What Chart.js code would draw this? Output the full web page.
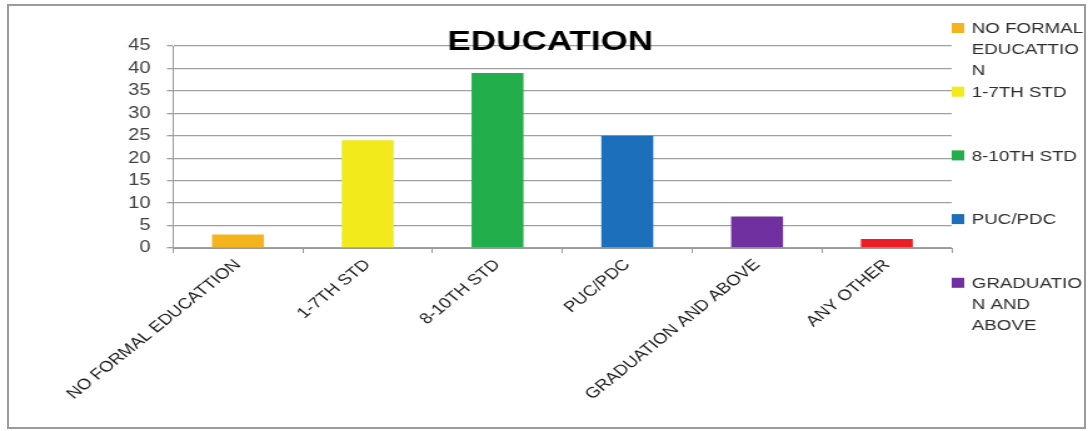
<!DOCTYPE html>
<html>
<head>
<meta charset="utf-8">
<script src="https://cdn.jsdelivr.net/npm/chart.js@4.4.1/dist/chart.umd.min.js"></script>
<style>
  body { margin: 0; background: #fff; }
  #wrap { position: relative; width: 1088px; height: 431px; overflow: hidden; background: #fff; }
  #frame { position: absolute; left: 7px; top: 4px; width: 1079px; height: 425px; border: 2px solid #9a9a9a; box-sizing: border-box; }
  /* the source picture is stretched sideways, so the canvas is too */
  #c { position: absolute; left: 0; top: 0; transform: scaleX(1.2506); transform-origin: 0 0; }
</style>
</head>
<body>
<div id="wrap">
  <div id="frame"></div>
  <canvas id="c" width="870" height="431"></canvas>
</div>
<script>
// Data
const chartTitle = 'EDUCATION';
const categories = ['NO FORMAL EDUCATTION', '1-7TH STD', '8-10TH STD', 'PUC/PDC', 'GRADUATION AND ABOVE', 'ANY OTHER'];
const counts = [3, 24, 39, 25, 7, 2];
const barColors = ['#f4b41b', '#f2ea1b', '#22ae4b', '#1b6fbb', '#7030a0', '#ee1c25'];
// legend as it shows in the picture (wrapped, last item cut off)
const legendLabels = ['NO FORMAL\nEDUCATTIO\nN', '1-7TH STD', '8-10TH STD', 'PUC/PDC', 'GRADUATIO\nN AND\nABOVE'];
const yMax = 45;
const yStep = 5;

// Title + legend drawn by hand
const decor = {
  id: 'decor',
  afterDraw(chart) {
    const ctx = chart.ctx;
    ctx.save();
    ctx.fillStyle = '#000';
    ctx.font = 'bold 28px "Liberation Sans"';
    ctx.textAlign = 'center';
    ctx.textBaseline = 'alphabetic';
    ctx.fillText(chartTitle, 440, 50);

    ctx.font = '15px "Liberation Sans"';
    ctx.textAlign = 'left';
    ctx.textBaseline = 'middle';
    legendLabels.forEach((lbl, i) => {
      const y = 28 + i * 63.7;
      ctx.fillStyle = barColors[i];
      ctx.fillRect(761, y - 5, 10, 10);
      ctx.fillStyle = '#2e2e2e';
      lbl.split('\n').forEach((line, j) => ctx.fillText(line, 777, y + 1 + j * 21));
    });
    ctx.restore();
  }
};

const ctx = document.getElementById('c').getContext('2d');
new Chart(ctx, {
  type: 'bar',
  data: {
    labels: categories,
    datasets: [{
      data: counts,
      backgroundColor: barColors,
      borderWidth: 0,
      barPercentage: 0.4,
      categoryPercentage: 1
    }]
  },
  options: {
    responsive: false,
    animation: false,
    devicePixelRatio: 1,
    layout: { padding: { left: 0, top: 46, right: 109, bottom: 0 } },
    plugins: {
      legend: { display: false },
      title: { display: false },
      tooltip: { enabled: false }
    },
    scales: {
      x: {
        grid: { display: true, drawOnChartArea: false, color: '#999', tickLength: 5 },
        border: { color: '#999' },
        ticks: {
          minRotation: 45,
          maxRotation: 45,
          autoSkip: false,
          padding: 3,
          color: '#1a1a1a',
          font: { family: '"Liberation Sans"', size: 15 }
        },
        afterFit(scale) {
          scale.height = 183;
          scale.paddingLeft = 0;
          scale.paddingRight = 0;
        }
      },
      y: {
        min: 0,
        max: yMax,
        grid: { color: '#a0a0a0', lineWidth: 1.3, tickLength: 5 },
        border: { color: '#999' },
        ticks: {
          stepSize: yStep,
          padding: 13,
          color: '#404040',
          font: { family: '"Liberation Sans"', size: 16 }
        },
        afterFit(scale) {
          scale.width = 138.4;
        }
      }
    }
  },
  plugins: [decor]
});
</script>
</body>
</html>
